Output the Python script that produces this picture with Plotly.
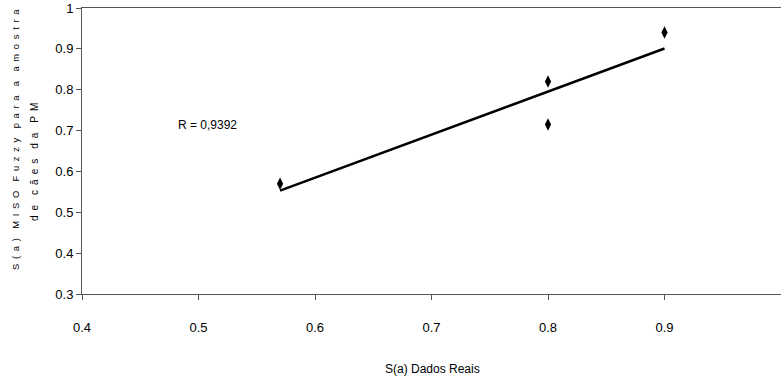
import numpy as np
import plotly.graph_objects as go

# Data
x_real = [0.57, 0.80, 0.80, 0.90]
y_fuzzy = [0.57, 0.82, 0.715, 0.94]
x_ticks = [0.4, 0.5, 0.6, 0.7, 0.8, 0.9]
y_ticks = [0.3, 0.4, 0.5, 0.6, 0.7, 0.8, 0.9, 1.0]
r_label = "R = 0,9392"
x_title = "S(a) Dados Reais"
y_title_1 = "S(a) MISO Fuzzy para a amostra"
y_title_2 = "de cães da PM"


def spaced(txt):
    # letter-spaced rendering as in the reference
    words = txt.split(" ")
    return "\u2002\u2002".join("\u2002".join(list(w)) for w in words)


# Linear trendline (least squares fit of the points)
slope, intercept = np.polyfit(x_real, y_fuzzy, 1)
trend_x = [min(x_real), max(x_real)]
trend_y = [slope * v + intercept for v in trend_x]

tick_font = dict(family="Liberation Sans Narrow, Arial Narrow, Liberation Sans, Arial, sans-serif",
                 size=13, color="black")

W, H = 781, 386
L, R, T, B = 82, 0, 8, 92
plot_w, plot_h = W - L - R, H - T - B


def px_x(p):
    return (p - L) / plot_w


def px_y(p):
    return (H - B - p) / plot_h


fig = go.Figure()
fig.add_trace(go.Scatter(x=trend_x, y=trend_y, mode="lines",
                         line=dict(color="black", width=2.5), hoverinfo="skip"))
fig.add_trace(go.Scatter(x=x_real, y=y_fuzzy, mode="markers",
                         marker=dict(symbol="diamond-tall", size=9, color="black")))

yt_font1 = dict(family="Liberation Sans, Arial, sans-serif", size=9.4, color="black")
yt_font2 = dict(family="Liberation Sans, Arial, sans-serif", size=10, color="black")
common = dict(xref="paper", yref="paper", showarrow=False, xanchor="center", yanchor="middle")

fig.update_layout(
    width=W, height=H,
    margin=dict(l=L, r=R, t=T, b=B),
    paper_bgcolor="white", plot_bgcolor="white",
    showlegend=False,
    xaxis=dict(range=[0.4, 1.0], tickvals=x_ticks, ticktext=[f"{v:.1f}" for v in x_ticks],
               showgrid=False, zeroline=False, showline=True, linecolor="#555555", linewidth=1,
               mirror=True, ticks="outside", ticklen=5, tickcolor="#555555",
               tickfont=tick_font, ticklabelstandoff=16),
    yaxis=dict(range=[0.3, 1.0], tickvals=y_ticks,
               ticktext=[("1" if v == 1.0 else f"{v:.1f}") for v in y_ticks],
               showgrid=False, zeroline=False, showline=True, linecolor="#555555", linewidth=1,
               ticks="outside", ticklen=5, tickcolor="#555555", tickfont=tick_font),
    annotations=[
        dict(x=px_x(207), y=px_y(125), text=r_label,
             font=dict(family="Liberation Sans, Arial, sans-serif", size=12, color="black"), **common),
        dict(x=px_x(432), y=px_y(369), text=x_title,
             font=dict(family="Liberation Sans Narrow, Arial Narrow, Liberation Sans, sans-serif",
                       size=12, color="black"), **common),
        dict(x=px_x(15), y=px_y(140), text=spaced(y_title_1), textangle=-90, font=yt_font1, **common),
        dict(x=px_x(34), y=px_y(162), text=spaced(y_title_2), textangle=-90, font=yt_font2, **common),
    ],
)

fig.write_html("out.html", config={"displayModeBar": False},
               post_script="document.body.style.margin='0';document.body.style.overflow='hidden';")
